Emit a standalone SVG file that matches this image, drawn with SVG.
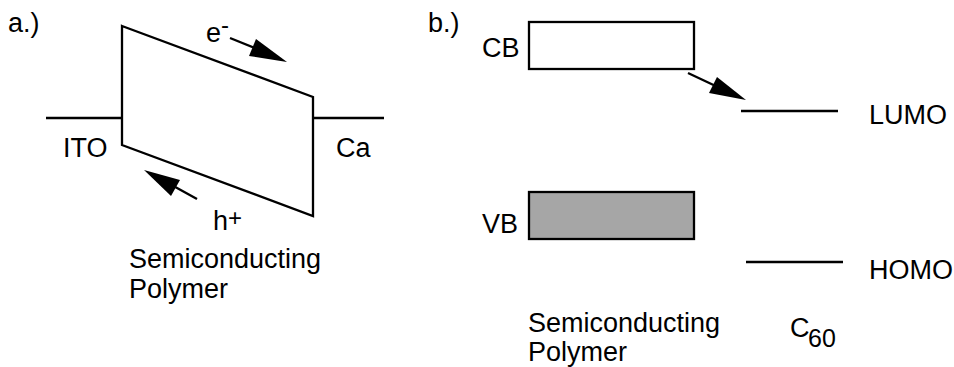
<svg xmlns="http://www.w3.org/2000/svg" width="954" height="367" viewBox="0 0 954 367">
  <defs>
    <style>
      .t { font-family: "Liberation Sans", Arial, sans-serif; font-size: 27px; fill: #000; }
      .sup { font-size: 24px; }
      .sub { font-size: 25px; }
      .ln { stroke: #000; stroke-width: 2.3; fill: none; }
      .head { fill: #000; stroke: none; }
    </style>
  </defs>
  <rect width="954" height="367" fill="#fff"/>

  <!-- a.) device band picture -->
  <g id="panel-a">
    <text class="t" x="8" y="32">a.)</text>
    <g id="ito">
      <line class="ln" x1="46" y1="118" x2="122" y2="118"/>
      <text class="t" x="63" y="157">ITO</text>
    </g>
    <g id="polymer-a">
      <polygon class="ln" points="122,26 313,97 313,216 122,145"/>
      <text class="t" x="129" y="268">Semiconducting</text>
      <text class="t" x="129" y="298">Polymer</text>
    </g>
    <g id="ca">
      <line class="ln" x1="313" y1="118" x2="384" y2="118"/>
      <text class="t" x="336" y="157">Ca</text>
    </g>
    <g id="electron">
      <text class="t" x="206" y="42">e</text>
      <text class="t sup" x="221" y="33">-</text>
    </g>
    <g id="hole">
      <text class="t" x="213" y="230">h</text>
      <text class="t sup" x="228" y="226">+</text>
    </g>
  </g>

  <!-- b.) energy levels -->
  <g id="panel-b">
    <text class="t" x="428" y="32">b.)</text>
    <g id="cb">
      <rect class="ln" x="529" y="22" width="165" height="47"/>
      <text class="t" x="482" y="57">CB</text>
    </g>
    <g id="vb">
      <rect x="529" y="192" width="165" height="47" fill="#a6a6a6" stroke="#000" stroke-width="2.3"/>
      <text class="t" x="482" y="233">VB</text>
    </g>
    <g id="lumo">
      <line class="ln" x1="741" y1="111" x2="838" y2="111"/>
      <text class="t" x="869" y="124">LUMO</text>
    </g>
    <g id="homo">
      <line class="ln" x1="746" y1="262" x2="843" y2="262"/>
      <text class="t" x="869" y="279">HOMO</text>
    </g>
    <text class="t" x="528" y="332">Semiconducting</text>
    <text class="t" x="528" y="361">Polymer</text>
    <g id="c60">
      <text class="t" x="790" y="337">C</text>
      <text class="t sub" x="808" y="347">60</text>
    </g>
  </g>

  <!-- charge-transfer arrows -->
  <g id="connectors">
    <line class="ln" x1="230" y1="38" x2="262" y2="51"/>
    <polygon class="head" points="287,62 256,39 249,56"/>
    <line class="ln" x1="197" y1="199" x2="168" y2="183"/>
    <polygon class="head" points="144,170 180,180 171,196"/>
    <line class="ln" x1="688" y1="73" x2="722" y2="89"/>
    <polygon class="head" points="746,100 717,77 709,93"/>
  </g>
</svg>
